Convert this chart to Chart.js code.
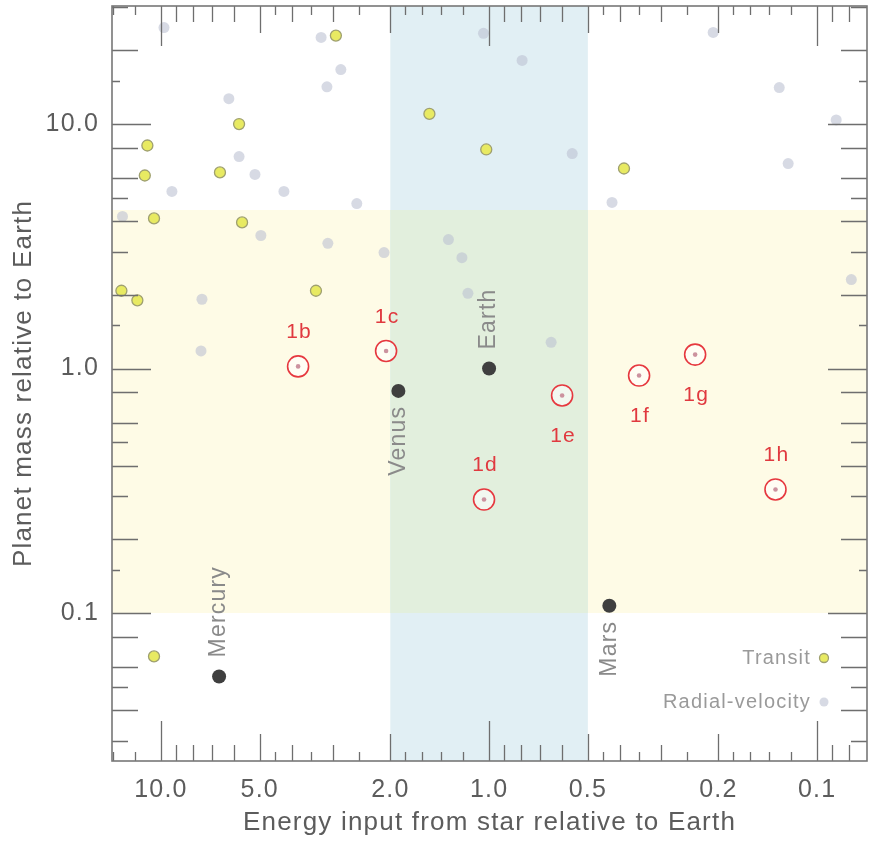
<!DOCTYPE html>
<html><head><meta charset="utf-8">
<script src="https://cdn.jsdelivr.net/npm/chart.js@4.4.1/dist/chart.umd.min.js"></script>
<style>html,body{margin:0;padding:0;background:#fff;}canvas{display:block;}</style>
</head><body>
<canvas id="c" width="870" height="841"></canvas>
<script>
// ---- data ----
const xTicks = [10, 5, 2, 1, 0.5, 0.2, 0.1];
const yTicks = [10, 1, 0.1];
const rvEnergy = [9.79, 3.25, 2.83, 3.12, 6.21, 5.78, 5.17, 9.26, 4.22, 2.53, 13.1, 4.96, 3.10, 2.09, 1.33, 7.50, 7.55, 1.04, 0.793, 0.558, 0.2075, 0.1305, 0.0875, 0.1226, 0.422, 1.21, 1.16, 0.0787, 0.647];
const rvMass   = [24.8, 22.6, 16.7, 14.2, 12.7, 7.36, 6.22, 5.30, 5.30, 4.73, 4.19, 3.50, 3.25, 2.98, 3.37, 1.92, 1.18, 23.5, 18.2, 7.57, 23.7, 14.1, 10.4, 6.89, 4.78, 2.84, 2.03, 2.31, 1.28];
const trEnergy = [2.93, 1.52, 5.78, 11.0, 11.2, 6.61, 10.5, 5.66, 13.2, 11.8, 3.37, 1.02, 0.388, 10.5];
const trMass   = [23.0, 11.0, 10.0, 8.17, 6.16, 6.34, 4.11, 3.96, 2.08, 1.90, 2.08, 7.87, 6.58, 0.0664];
const solarNames  = ['Mercury', 'Venus', 'Earth', 'Mars'];
const solarEnergy = [6.65, 1.89, 1.0, 0.43];
const solarMass   = [0.055, 0.81, 1.0, 0.107];
const trappistNames  = ['1b', '1c', '1d', '1e', '1f', '1g', '1h'];
const trappistEnergy = [3.82, 2.06, 1.036, 0.599, 0.349, 0.2355, 0.134];
const trappistMass   = [1.02, 1.18, 0.291, 0.776, 0.936, 1.14, 0.32];
const energyBand = [2.0, 0.5];
const massBand = [0.1, 4.45];
const legendLabels = ['Transit', 'Radial-velocity'];

const FONT = 'Liberation Sans, Arial, Helvetica, sans-serif';
const pts = (xs, ys) => xs.map((x, i) => ({x: x, y: ys[i]}));

const bandsPlugin = {
  id: 'bands',
  beforeDatasetsDraw(chart) {
    const {ctx, chartArea: a, scales: {x, y}} = chart;
    const p1 = x.getPixelForValue(energyBand[0]), p2 = x.getPixelForValue(energyBand[1]);
    const bx1 = Math.min(p1, p2), bx2 = Math.max(p1, p2);
    const q1 = y.getPixelForValue(massBand[1]), q2 = y.getPixelForValue(massBand[0]);
    const by1 = Math.min(q1, q2), by2 = Math.max(q1, q2);
    ctx.save();
    ctx.fillStyle = '#fefbe6'; ctx.fillRect(a.left, by1, a.width, by2 - by1);
    ctx.fillStyle = '#e1eff4'; ctx.fillRect(bx1, a.top, bx2 - bx1, a.height);
    ctx.fillStyle = '#e2efdd'; ctx.fillRect(bx1, by1, bx2 - bx1, by2 - by1);
    ctx.restore();
  }
};

const labelsPlugin = {
  id: 'labels',
  afterDatasetsDraw(chart) {
    const {ctx, scales: {x, y}} = chart;
    ctx.save();
    ctx.letterSpacing = '1.2px';
    ctx.font = '21px ' + FONT;
    ctx.fillStyle = '#e0393f';
    ctx.textAlign = 'center';
    ctx.textBaseline = 'middle';
    const below = ['1e', '1f', '1g'];
    trappistNames.forEach((n, i) => {
      const px = x.getPixelForValue(trappistEnergy[i]);
      const py = y.getPixelForValue(trappistMass[i]);
      const dy = below.includes(n) ? 41 : -34;
      ctx.fillText(n, px + 1, py + dy);
    });
    ctx.font = '23px ' + FONT;
    ctx.fillStyle = '#8a8a8a';
    const above = {Mercury: true, Venus: false, Earth: true, Mars: false};
    solarNames.forEach((n, i) => {
      const px = x.getPixelForValue(solarEnergy[i]);
      const py = y.getPixelForValue(solarMass[i]);
      ctx.save();
      if (above[n]) {
        ctx.translate(px, py - 19);
        ctx.rotate(-Math.PI / 2);
        ctx.textAlign = 'left';
      } else {
        ctx.translate(px, py + 15);
        ctx.rotate(-Math.PI / 2);
        ctx.textAlign = 'right';
      }
      ctx.textBaseline = 'middle';
      ctx.fillText(n, 0, 0);
      ctx.restore();
    });
    ctx.restore();
  }
};

const frameTicksPlugin = {
  id: 'frameTicks',
  beforeDraw(chart) { chart.ctx.letterSpacing = '1.2px'; },
  afterDraw(chart) {
    const {ctx, chartArea: a, scales: {x, y}} = chart;
    ctx.save();
    ctx.strokeStyle = '#6e6e6e';
    ctx.lineWidth = 1.3;
    const xm = [[1,40],[1.2,9],[1.4,9],[1.6,9],[1.8,9],[2,27],[2.5,9],[3,16],[3.5,9],[4,16],[4.5,9],[5,27],[6,16],[7,16],[8,16],[9,16]];
    const ym = [[1,39],[1.5,8],[2,26],[3,16],[4,26],[5,16],[6,26],[8,26]];
    ctx.beginPath();
    for (let d = -3; d <= 2; d++) {
      xm.forEach(([m, len]) => {
        const v = m * Math.pow(10, d);
        if (v <= x.min || v >= x.max) return;
        const px = Math.round(x.getPixelForValue(v)) + 0.5;
        ctx.moveTo(px, a.bottom); ctx.lineTo(px, a.bottom - len);
        ctx.moveTo(px, a.top); ctx.lineTo(px, a.top + len);
      });
      ym.forEach(([m, len]) => {
        const v = m * Math.pow(10, d);
        if (v <= y.min || v >= y.max) return;
        const py = Math.round(y.getPixelForValue(v)) + 0.5;
        ctx.moveTo(a.left, py); ctx.lineTo(a.left + len, py);
        ctx.moveTo(a.right, py); ctx.lineTo(a.right - len, py);
      });
    }
    ctx.stroke();
    ctx.lineWidth = 1.6;
    ctx.strokeStyle = '#777';
    ctx.strokeRect(a.left, a.top, a.right - a.left, a.bottom - a.top);
    ctx.letterSpacing = '1.2px';
    ctx.font = '20px ' + FONT;
    ctx.fillStyle = '#9a9a9a';
    ctx.textAlign = 'right';
    ctx.textBaseline = 'middle';
    ctx.fillText(legendLabels[0], 811, 658);
    ctx.fillText(legendLabels[1], 811, 702);
    ctx.beginPath(); ctx.arc(824, 658, 4.5, 0, Math.PI * 2);
    ctx.fillStyle = '#e8ea62'; ctx.fill();
    ctx.lineWidth = 1.3; ctx.strokeStyle = '#9fa070'; ctx.stroke();
    ctx.beginPath(); ctx.arc(824, 702, 4.5, 0, Math.PI * 2);
    ctx.fillStyle = 'rgba(188,194,210,0.6)'; ctx.fill();
    ctx.restore();
  }
};

const tickFont = {family: FONT, size: 25};
const titleFont = {family: FONT, size: 26};
const grey = '#5c5c5c';

new Chart(document.getElementById('c').getContext('2d'), {
  type: 'scatter',
  data: {
    datasets: [
      {label: 'Radial-velocity', data: pts(rvEnergy, rvMass), pointRadius: 5.5, pointHoverRadius: 5.5,
       backgroundColor: 'rgba(188,194,210,0.6)', borderWidth: 0},
      {label: 'Transit', data: pts(trEnergy, trMass), pointRadius: 5.5, pointHoverRadius: 5.5,
       backgroundColor: '#e8ea62', borderColor: '#9fa070', borderWidth: 1.3},
      {label: 'TRAPPIST-1', data: pts(trappistEnergy, trappistMass), pointRadius: 10.5, pointHoverRadius: 10.5,
       backgroundColor: 'rgba(255,255,255,0.55)', borderColor: '#e6383f', borderWidth: 1.6},
      {label: 'TRAPPIST-1 centre', data: pts(trappistEnergy, trappistMass), pointRadius: 2.3, pointHoverRadius: 2.3,
       backgroundColor: '#8e0f2c', borderWidth: 0},
      {label: 'Solar System', data: pts(solarEnergy, solarMass), pointRadius: 7, pointHoverRadius: 7,
       backgroundColor: '#3f3f3f', borderWidth: 0}
    ]
  },
  options: {
    responsive: false, animation: false, devicePixelRatio: 1,
    layout: {autoPadding: false, padding: {top: 6, right: 3, left: 0, bottom: 0}},
    plugins: {legend: {display: false}, tooltip: {enabled: false}},
    scales: {
      x: {
        type: 'logarithmic', reverse: true, min: 0.0705, max: 14.1,
        afterBuildTicks: s => { s.ticks = xTicks.map(v => ({value: v})); },
        afterFit: s => { s.height = 80; s.paddingLeft = 0; s.paddingRight = 0; },
        grid: {display: false, drawTicks: false}, border: {display: false},
        ticks: {callback: v => Number(v).toFixed(1), font: tickFont, color: grey, padding: 14, autoSkip: false, maxRotation: 0},
        title: {display: true, text: 'Energy input from star relative to Earth', font: titleFont, color: grey, padding: {top: 0, bottom: 3}}
      },
      y: {
        type: 'logarithmic', min: 0.0248, max: 30.4,
        afterBuildTicks: s => { s.ticks = yTicks.map(v => ({value: v})); },
        afterFit: s => { s.width = 112; s.paddingTop = 0; s.paddingBottom = 0; },
        grid: {display: false, drawTicks: false}, border: {display: false},
        ticks: {callback: v => Number(v).toFixed(1), font: tickFont, color: grey, padding: 13, autoSkip: false},
        title: {display: true, text: 'Planet mass relative to Earth', font: titleFont, color: grey, padding: {top: 8, bottom: 0}}
      }
    }
  },
  plugins: [bandsPlugin, labelsPlugin, frameTicksPlugin]
});
</script>
</body></html>
